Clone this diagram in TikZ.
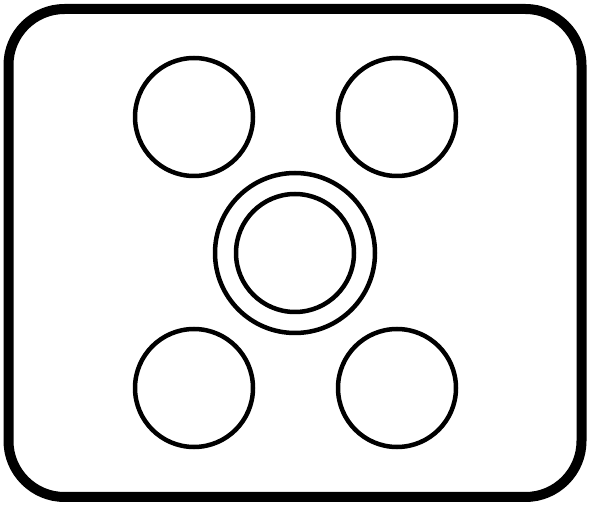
\documentclass[tikz,border=0pt]{standalone}
\usetikzlibrary{positioning}

\begin{document}
\begin{tikzpicture}[x=1pt, y=-1pt,
    frame/.style={draw, line width=10pt, rounded corners=56pt, inner sep=0pt,
      minimum width=573pt, minimum height=488pt},
    burner/.style={draw, circle, line width=4.5pt, inner sep=0pt, minimum size=118pt},
    ring/.style={draw, circle, line width=4.5pt, inner sep=0pt, minimum size=160pt}]
    \useasboundingbox (0,0) rectangle (590,505);

    \node [frame] (hob) at (295,253) {};

    \node [ring] (middle) at (295,253) {};
    \node [burner] (centre) at (295,253) {};

    \node [burner] (topleft) at (194,117) {};
    \node [burner] (topright) at (397,117) {};
    \node [burner] (bottomleft) at (194,388) {};
    \node [burner] (bottomright) at (397,388) {};
  \end{tikzpicture}
\end{document}
